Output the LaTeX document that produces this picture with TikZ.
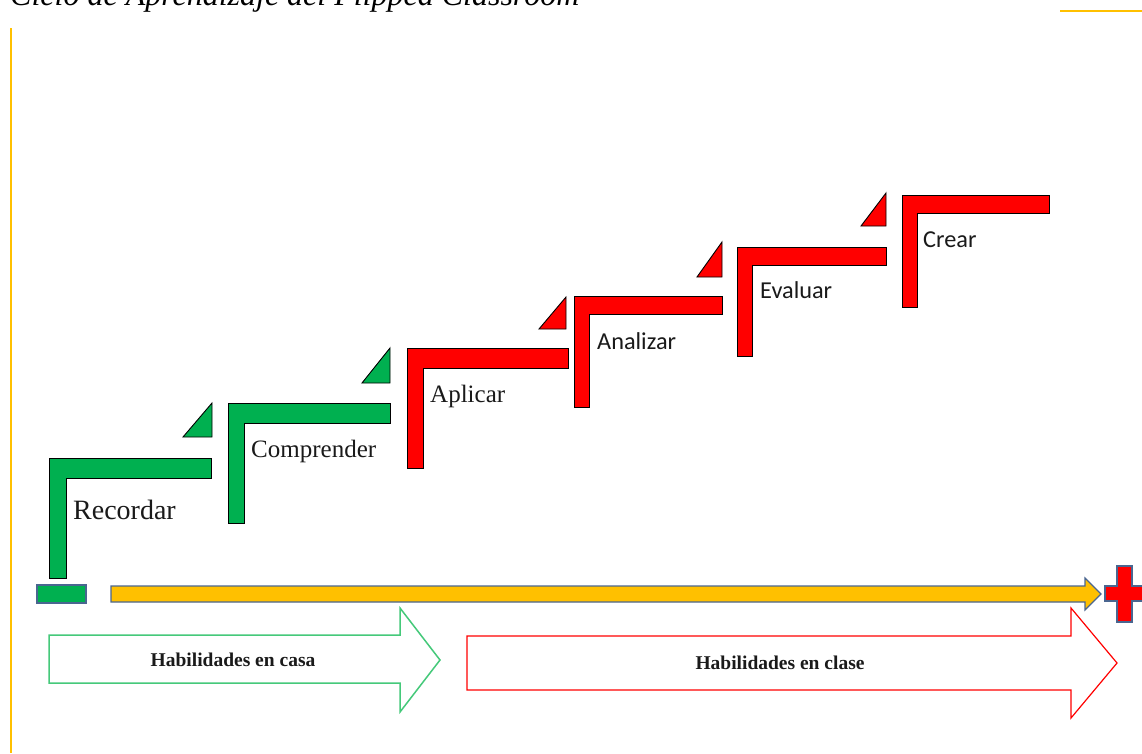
\documentclass[tikz,border=0pt]{standalone}
\usepackage{fontspec}
\setmainfont{Liberation Serif}
\newfontfamily\calibri{Carlito}
\definecolor{stgreen}{HTML}{00B050}
\definecolor{stred}{HTML}{FF0000}
\definecolor{styellow}{HTML}{FFC000}
\definecolor{edgeblue}{HTML}{4A6690}
\definecolor{outgreen}{HTML}{45C97A}
\definecolor{txtgray}{HTML}{1A1A1A}
\tikzset{
  lshape/.style={draw=black, line width=0.9pt, line join=miter},
  tri/.style={draw=black, line width=0.9pt, line join=miter},
  blueedge/.style={draw=edgeblue, line width=1.2pt, line join=miter},
  steplabel/.style={anchor=base west, inner sep=0pt, text=txtgray},
  serlabel/.style={steplabel, font=\fontsize{25}{28}\selectfont},
  sanslabel/.style={steplabel, font=\calibri\fontsize{24.3}{28}\selectfont},
  skilllabel/.style={inner sep=0pt, text=txtgray, font=\bfseries\fontsize{19.5}{22}\selectfont},
  frame/.style={draw=styellow, line width=2.2pt}
}
% #1 left, #2 top, #3 right, #4 bottom, #5 bar height, #6 bar width, #7 colour
\newcommand\stairshape[7]{%
  \filldraw[lshape, fill=#7] (#1,#2) -- (#3,#2) -- (#3,#2+#5) -- (#1+#6,#2+#5)
    -- (#1+#6,#4) -- (#1,#4) -- cycle;}
% #1 corner x, #2 corner y, #3 apex y, #4 left x, #5 colour
\newcommand\steptri[5]{%
  \filldraw[tri, fill=#5] (#1,#2) -- (#1,#3) -- (#4,#2) -- cycle;}
\begin{document}
\begin{tikzpicture}[x=1pt,y=-1pt]
\useasboundingbox (0,0) rectangle (1142,753);
\clip (0,0) rectangle (1142,753);
\fill[white] (0,0) rectangle (1142,753);

% title (cut at the top edge)
\node[anchor=base west, inner sep=0pt, font=\itshape\fontsize{32}{36}\selectfont] (title) at (10,5) {Ciclo de Aprendizaje del Flipped Classroom};

% frame lines
\draw[frame] (11,28) -- (11,753);
\draw[frame] (1060,11) -- (1142,11);

% stairs
\stairshape{49}{458}{211}{578}{20}{17}{stgreen}
\stairshape{228}{403}{390}{523}{20}{16}{stgreen}
\stairshape{407}{348}{568}{468}{20}{16}{stred}
\stairshape{574}{296}{722}{407}{18}{15}{stred}
\stairshape{737}{247}{886}{356}{18}{15}{stred}
\stairshape{902}{195}{1049}{307}{18}{15}{stred}

% triangles
\steptri{212}{437}{403}{183}{stgreen}
\steptri{390}{383}{348}{362}{stgreen}
\steptri{566}{329}{297}{539}{stred}
\steptri{722}{277}{242}{697}{stred}
\steptri{886}{226}{193}{861}{stred}

% labels
\node[steplabel, font=\fontsize{28}{30}\selectfont] (recordar) at (73,519) {Recordar};
\node[serlabel] (comprender) at (251,457) {Comprender};
\node[serlabel] (aplicar) at (430,402) {Aplicar};
\node[sanslabel] (analizar) at (597,349) {Analizar};
\node[sanslabel] (evaluar) at (760,298) {Evaluar};
\node[sanslabel] (crear) at (923,247) {Crear};

% minus sign
\filldraw[blueedge, fill=stgreen] (37,585) rectangle (86,603);

% yellow arrow
\filldraw[blueedge, fill=styellow] (111,586) -- (1085,586) -- (1085,578) -- (1101,594)
  -- (1085,610) -- (1085,602) -- (111,602) -- cycle;

% plus sign
\filldraw[blueedge, fill=stred] (1117,566) -- (1132,566) -- (1132,586) -- (1146,586)
  -- (1146,601) -- (1132,601) -- (1132,622) -- (1117,622) -- (1117,601) -- (1105,601)
  -- (1105,586) -- (1117,586) -- cycle;

% outline arrows
\draw[outgreen, line width=1.5pt, line join=miter] (49,635) -- (400,635) -- (400,608) -- (440,660)
  -- (400,712) -- (400,683) -- (49,683) -- cycle;
\draw[stred, line width=1.2pt, line join=miter] (467,636) -- (1071,636) -- (1071,608) -- (1117,663)
  -- (1071,718) -- (1071,690) -- (467,690) -- cycle;

\node[skilllabel] (casa) at (233,660) {Habilidades en casa};
\node[skilllabel] (clase) at (780,663) {Habilidades en clase};
\end{tikzpicture}
\end{document}
